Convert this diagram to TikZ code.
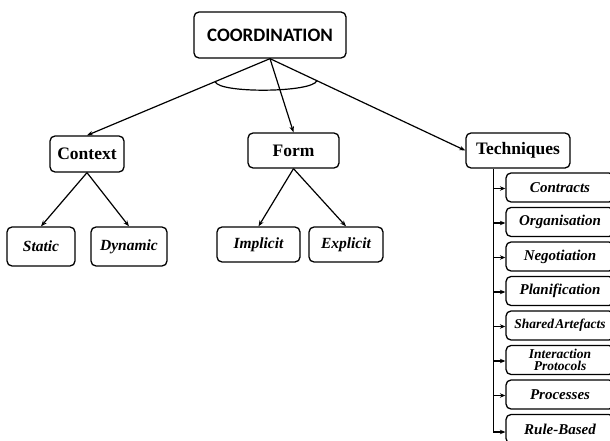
\documentclass[tikz,border=0pt]{standalone}
\usepackage{fontspec}
\setmainfont{Liberation Serif}
\newfontfamily\calibri{Carlito}
\usetikzlibrary{arrows.meta,calc}
\begin{document}
\begin{tikzpicture}[x=1pt,y=-1pt,
  box/.style={draw,line width=1.3pt,rounded corners=5pt,inner sep=1pt,align=center},
  topbox/.style={box,font=\calibri\bfseries\fontsize{19}{22}\selectfont,minimum width=152pt,minimum height=46pt},
  catbox/.style={box,font=\bfseries\fontsize{17.5}{20}\selectfont,minimum height=35pt},
  leafbox/.style={box,font=\bfseries\itshape\fontsize{15.5}{18}\selectfont,minimum height=37pt},
  techbox/.style={box,font=\bfseries\itshape\fontsize{15}{16}\selectfont,minimum width=108pt,minimum height=29pt},
  arr/.style={line width=1.2pt,-{Stealth[length=6pt,width=4.5pt]}},
  tarr/.style={line width=1.2pt,-{Stealth[length=5.5pt,width=4.5pt]}}]
\useasboundingbox (0,0) rectangle (610,441);
\clip (0,0) rectangle (610,441);
\node[topbox] (coord) at (270,35) {COORDINATION};
\node[catbox,minimum width=74pt,minimum height=36pt] (context) at (87,154) {Context};
\node[catbox,minimum width=91pt] (form) at (293.5,150.5) {Form};
\node[catbox,minimum width=104pt] (tech) at (518,150.5) {Techniques};
\node[leafbox,minimum width=68pt,minimum height=39pt] (static) at (41,246.5) {Static};
\node[leafbox,minimum width=76pt,minimum height=39pt] (dynamic) at (129,246.5) {Dynamic};
\node[leafbox,minimum width=83pt,minimum height=35pt] (implicit) at (258.5,244.5) {Implicit};
\node[leafbox,minimum width=74pt,minimum height=35pt] (explicit) at (346,244.5) {Explicit};
\node[techbox] (t1) at (560,187.5) {Contracts};
\node[techbox] (t2) at (560,222) {Organisation};
\node[techbox] (t3) at (560,256.5) {Negotiation};
\node[techbox] (t4) at (560,291) {Planification};
\node[techbox,font=\bfseries\itshape\fontsize{13.5}{15}\selectfont] (t5) at (560,325.5) {Shared\hspace{0.1em}Artefacts};
\node[techbox,font=\bfseries\itshape\fontsize{13.5}{12.5}\selectfont] (t6) at (560,360) {Interaction\\Protocols};
\node[techbox] (t7) at (560,394.5) {Processes};
\node[techbox] (t8) at (560,429) {Rule-Based};
% top connectors
\draw[arr] (coord.south) -- (context.north);
\draw[arr] (coord.south) -- (form.north);
\draw[arr] (coord.south) -- (tech.west);
\coordinate (al) at ($(coord.south)!0.30!(context.north)$);
\coordinate (ar) at ($(coord.south)!0.24!(tech.west)$);
\draw[line width=1.2pt] (al) .. controls ($(al)+(4,12)$) and ($(ar)+(-4,12)$) .. (ar);
% sub connectors
\draw[arr] (context.south) -- (static.north);
\draw[arr] (context.south) -- (dynamic.north);
\draw[arr] (form.south) -- (implicit.north);
\draw[arr] (form.south) -- (explicit.north);
% technique trunk
\coordinate (trunk) at ($(tech.south west)+(28,0)$);
\draw[line width=1.2pt] (trunk) |- ($(t8.west)+(-2,3)$);
\draw[tarr] ($(trunk |- t8.west)+(0,3)$) -- ($(t8.west)+(0,3)$);
\foreach \t in {t1,t2,t3,t4,t5,t6,t7}{
  \draw[tarr] ($(trunk |- \t.west)+(0,1)$) -- ($(\t.west)+(0,1)$);
}
\end{tikzpicture}
\end{document}
